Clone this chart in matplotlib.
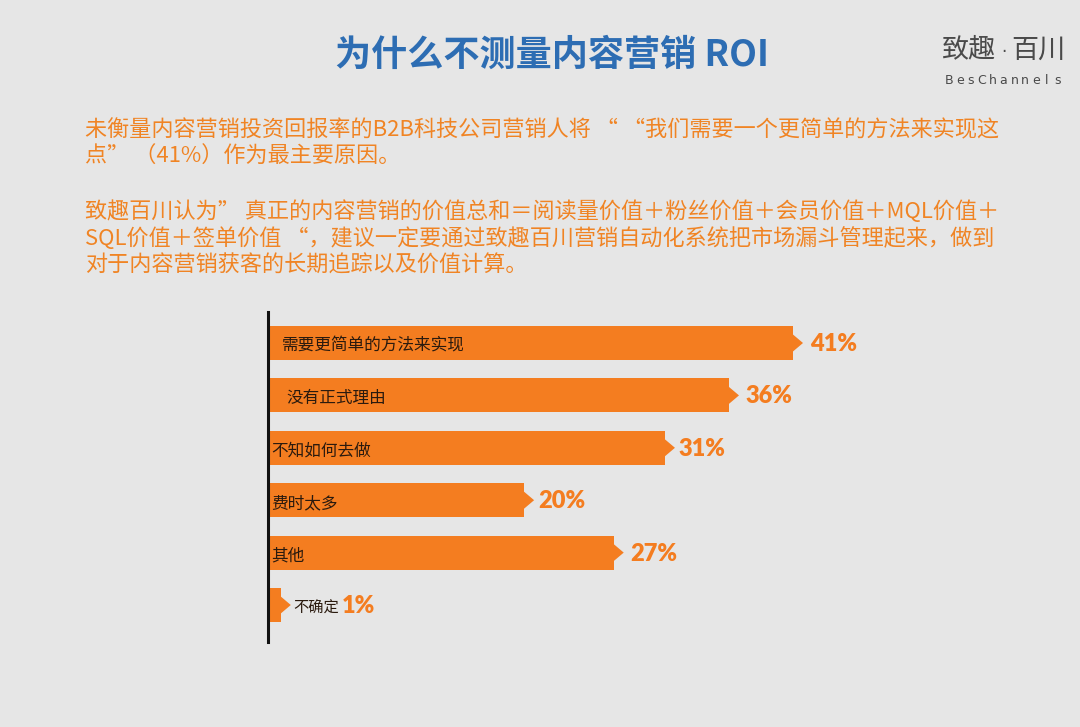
import matplotlib
matplotlib.use("Agg")
import matplotlib.pyplot as plt
from matplotlib.patches import Polygon

plt.rcParams['font.family'] = ['Noto Sans CJK SC', 'DejaVu Sans']

categories = ["需要更简单的方法来实现", "没有正式理由", "不知如何去做", "费时太多", "其他", "不确定"]
values = [41, 36, 31, 20, 27, 1]
value_labels = ["41%", "36%", "31%", "20%", "27%", "1%"]

title = "为什么不测量内容营销 ROI"
para1 = ["未衡量内容营销投资回报率的B2B科技公司营销人将 “ “我们需要一个更简单的方法来实现这",
         "点” （41%）作为最主要原因。"]
para2 = ["致趣百川认为” 真正的内容营销的价值总和＝阅读量价值＋粉丝价值＋会员价值＋MQL价值＋",
         "SQL价值＋签单价值 “，建议一定要通过致趣百川营销自动化系统把市场漏斗管理起来，做到",
         "对于内容营销获客的长期追踪以及价值计算。"]

BG = "#e6e6e6"
ORANGE = "#f47d20"
TEXT_ORANGE = "#f08424"
BLUE = "#2d6db3"

W, H = 1080, 727
fig = plt.figure(figsize=(W / 100, H / 100), dpi=100, facecolor=BG)

def fx(px):
    return px / W

def fy(py):
    return 1 - py / H

# Title
fig.text(fx(552), fy(55), title, ha="center", va="center", fontsize=26,
         fontweight="bold", color=BLUE)

# Logo
fig.text(fx(942), fy(50), "致趣", ha="left", va="center", fontsize=19.5,
         fontweight="light", color="#4a4a4a")
fig.text(fx(1004), fy(52), "·", ha="center", va="center", fontsize=12,
         color="#4a4a4a", family=["DejaVu Sans"])
fig.text(fx(1066), fy(50), "百川", ha="right", va="center", fontsize=19.5,
         fontweight="light", color="#4a4a4a")
logo_en = "BesChannels"
for i, ch in enumerate(logo_en):
    fig.text(fx(949 + i * 10.9), fy(80), ch, ha="center", va="center", fontsize=9,
             color="#4a4a4a", family=["DejaVu Sans"])

# Paragraphs
for i, line in enumerate(para1):
    fig.text(fx(85), fy(130 + i * 27), line, ha="left", va="center", fontsize=15.9,
             fontweight="medium", color=TEXT_ORANGE)
for i, line in enumerate(para2):
    fig.text(fx(85), fy(212 + i * 27), line, ha="left", va="center", fontsize=15.9,
             fontweight="medium", color=TEXT_ORANGE)

# Chart axes: x=0 at px 268, 41 at px 793
px_per = (793 - 268) / 41.0
xmax = 60
ax_left, ax_right = 268, 268 + xmax * px_per
ax_top, ax_bot = 312, 642
ax = fig.add_axes([fx(ax_left), fy(ax_bot), (ax_right - ax_left) / W, (ax_bot - ax_top) / H])
ax.set_facecolor("none")
spacing = 52.4
ax.set_xlim(0, xmax)
ax.set_ylim((ax_bot - 343) / spacing, (ax_top - 343) / spacing)

ys = list(range(len(values)))
bh = 34 / spacing
ax.barh(ys, values, height=bh, color=ORANGE, left=0)

tip_w = 10 / px_per
tip_h = 18 / spacing
for y, v in zip(ys, values):
    ax.add_patch(Polygon([[v - 0.05, y - tip_h / 2], [v + tip_w, y], [v - 0.05, y + tip_h / 2]],
                         closed=True, facecolor=ORANGE, edgecolor="none"))

label_offsets = [14, 18, 3, 3, 3, 25]
label_sizes = [12, 12, 12, 12, 12, 11]
for y, cat, off, fs in zip(ys, categories, label_offsets, label_sizes):
    ax.text(off / px_per, y + 0.06, cat, ha="left", va="center", fontsize=fs,
            color="#2a1a0e")

pct_offsets = [17, 17, 14, 14, 17, 0]
for y, v, lab, off in zip(ys, values, value_labels, pct_offsets):
    xpos = v + off / px_per if lab != "1%" else 74 / px_per
    ax.text(xpos, y + 0.02, lab, ha="left", va="center", fontsize=17,
            fontweight="heavy", color=ORANGE, family=["Lato", "DejaVu Sans"])

for s in ["top", "right", "bottom"]:
    ax.spines[s].set_visible(False)
ax.spines["left"].set_linewidth(2.2)
ax.spines["left"].set_color("#111111")
ax.set_xticks([])
ax.set_yticks([])

fig.savefig("out.png", dpi=100, facecolor=BG)
